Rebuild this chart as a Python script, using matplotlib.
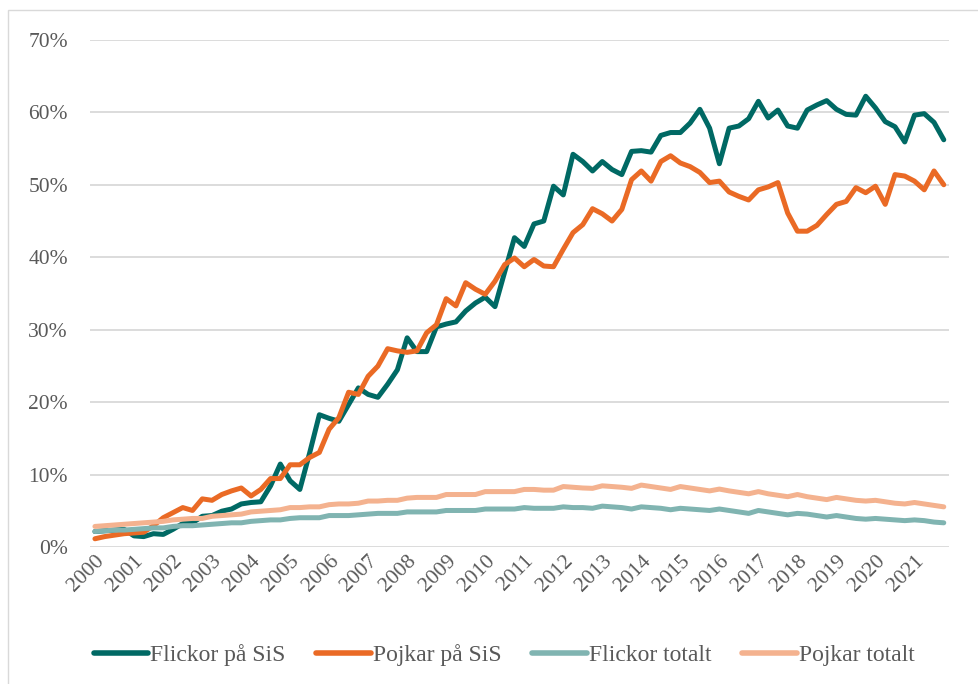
import numpy as np
import matplotlib
matplotlib.use("Agg")
import matplotlib.pyplot as plt
from matplotlib.patches import Rectangle

# Quarterly shares 2000-2021 (percent)
years = list(range(2000, 2022))

flickor_sis = [2.2, 2.3, 2.4, 2.5, 1.6, 1.5, 1.9, 1.8,
               2.5, 3.3, 3.4, 4.3, 4.4, 5.0, 5.3, 6.0,
               6.2, 6.3, 8.5, 11.5, 9.2, 8.0, 13.0, 18.3,
               17.8, 17.4, 19.7, 22.0, 21.1, 20.7, 22.5, 24.5,
               28.9, 27.0, 27.0, 30.4, 30.8, 31.1, 32.6, 33.7,
               34.5, 33.2, 38.0, 42.7, 41.5, 44.6, 45.0, 49.8,
               48.6, 54.2, 53.2, 51.9, 53.2, 52.1, 51.4, 54.6,
               54.7, 54.5, 56.8, 57.2, 57.2, 58.5, 60.4, 57.8,
               52.9, 57.8, 58.1, 59.1, 61.5, 59.2, 60.3, 58.1,
               57.8, 60.3, 61.0, 61.6, 60.4, 59.7, 59.6, 62.2,
               60.6, 58.7, 58.0, 55.9, 59.6, 59.8, 58.6, 56.2]

pojkar_sis = [1.2, 1.5, 1.7, 1.9, 2.0, 2.1, 3.0, 4.1,
              4.8, 5.5, 5.1, 6.7, 6.5, 7.3, 7.8, 8.2,
              7.1, 8.0, 9.5, 9.5, 11.4, 11.4, 12.4, 13.1,
              16.3, 17.9, 21.4, 21.1, 23.6, 25.0, 27.4, 27.1,
              26.9, 27.1, 29.6, 30.7, 34.3, 33.3, 36.5, 35.6,
              34.9, 36.7, 39.0, 39.9, 38.7, 39.7, 38.8, 38.7,
              41.1, 43.4, 44.5, 46.7, 46.0, 45.0, 46.6, 50.7,
              51.9, 50.5, 53.2, 54.0, 53.0, 52.5, 51.7, 50.3,
              50.5, 49.0, 48.4, 47.9, 49.3, 49.7, 50.3, 46.1,
              43.6, 43.6, 44.4, 45.9, 47.3, 47.7, 49.6, 48.9,
              49.8, 47.3, 51.4, 51.2, 50.5, 49.3, 51.9, 50.0]

flickor_tot = [2.2, 2.3, 2.4, 2.4, 2.5, 2.6, 2.7, 2.7,
               2.9, 3.0, 3.0, 3.1, 3.2, 3.3, 3.4, 3.4,
               3.6, 3.7, 3.8, 3.8, 4.0, 4.1, 4.1, 4.1,
               4.4, 4.4, 4.4, 4.5, 4.6, 4.7, 4.7, 4.7,
               4.9, 4.9, 4.9, 4.9, 5.1, 5.1, 5.1, 5.1,
               5.3, 5.3, 5.3, 5.3, 5.5, 5.4, 5.4, 5.4,
               5.6, 5.5, 5.5, 5.4, 5.7, 5.6, 5.5, 5.3,
               5.6, 5.5, 5.4, 5.2, 5.4, 5.3, 5.2, 5.1,
               5.3, 5.1, 4.9, 4.7, 5.1, 4.9, 4.7, 4.5,
               4.7, 4.6, 4.4, 4.2, 4.4, 4.2, 4.0, 3.9,
               4.0, 3.9, 3.8, 3.7, 3.8, 3.7, 3.5, 3.4]

pojkar_tot = [2.9, 3.0, 3.1, 3.2, 3.3, 3.4, 3.5, 3.6,
              3.8, 3.9, 4.0, 4.0, 4.3, 4.4, 4.5, 4.6,
              4.9, 5.0, 5.1, 5.2, 5.5, 5.5, 5.6, 5.6,
              5.9, 6.0, 6.0, 6.1, 6.4, 6.4, 6.5, 6.5,
              6.8, 6.9, 6.9, 6.9, 7.3, 7.3, 7.3, 7.3,
              7.7, 7.7, 7.7, 7.7, 8.0, 8.0, 7.9, 7.9,
              8.4, 8.3, 8.2, 8.15, 8.5, 8.4, 8.3, 8.15,
              8.6, 8.4, 8.2, 8.0, 8.4, 8.2, 8.0, 7.8,
              8.05, 7.8, 7.6, 7.4, 7.7, 7.4, 7.2, 7.0,
              7.3, 7.0, 6.8, 6.6, 6.9, 6.7, 6.5, 6.4,
              6.5, 6.3, 6.1, 6.0, 6.2, 6.0, 5.8, 5.6]

series = [("Flickor på SiS", flickor_sis, "#006964"),
          ("Pojkar på SiS", pojkar_sis, "#EA6A25"),
          ("Flickor totalt", flickor_tot, "#80B4B1"),
          ("Pojkar totalt", pojkar_tot, "#F4B28F")]

plt.rcParams["font.family"] = ["Liberation Serif", "DejaVu Serif"]

fig = plt.figure(figsize=(9.79, 6.84), dpi=100)
ax = fig.add_axes([0.092, 0.1996, 0.877, 0.7424])

x = np.arange(len(flickor_sis))
for name, vals, col in series:
    ax.plot(x, np.array(vals) / 100, color=col, lw=3.6, label=name,
            solid_capstyle="round", solid_joinstyle="round")

ax.set_xlim(-0.5, len(x) - 0.5)
ax.set_ylim(0, 0.7)
ax.set_yticks(np.arange(0, 0.71, 0.1))
ax.set_yticklabels([f"{int(round(v*100))}%" for v in np.arange(0, 0.71, 0.1)])
ax.set_xticks(np.arange(0, len(x), 4))
ax.set_xticklabels([str(y) for y in years], rotation=45, ha="right",
                   rotation_mode="anchor")
ax.tick_params(axis="both", length=0, colors="#595959", labelsize=15.5)
ax.tick_params(axis="y", pad=16)
ax.tick_params(axis="x", pad=3)
ax.grid(axis="y", color="#D9D9D9", lw=1.3)
ax.set_axisbelow(True)
for s in ax.spines.values():
    s.set_visible(False)

leg = fig.legend(loc="center", bbox_to_anchor=(0.515, 0.042), ncol=4, frameon=False,
                 fontsize=17, handlelength=2.3, handletextpad=0.1,
                 columnspacing=1.3)
for t in leg.get_texts():
    t.set_color("#595959")
for h in leg.legend_handles:
    h.set_linewidth(4)

# chart-area border (left and top edges visible)
fig.patches.append(Rectangle((8 / 979, -0.05), 1.1, 1.05 - 10 / 684,
                             transform=fig.transFigure, fill=False,
                             edgecolor="#D9D9D9", lw=1))

fig.savefig("out.png", dpi=100)
